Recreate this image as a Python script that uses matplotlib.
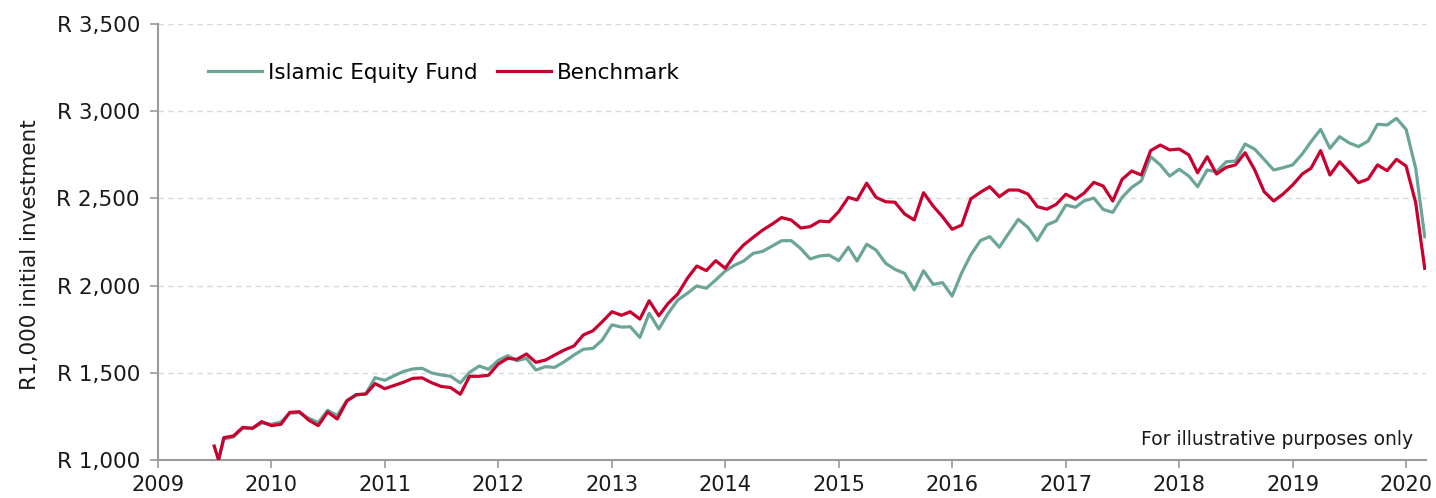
import matplotlib
matplotlib.use("Agg")
import matplotlib.pyplot as plt
from matplotlib.ticker import FuncFormatter
import pandas as pd

# ---- data ----
start_dates = ["2009-07-01", "2009-07-15"]
start_fund = [1080, 1000]
start_bench = [1080, 1000]
monthly_start = "2009-08-01"

fund = [1120, 1132, 1183, 1180, 1212, 1205, 1218, 1268, 1272, 1240,
        1215, 1285, 1255, 1342, 1372, 1380, 1472, 1457, 1484, 1507,
        1522, 1526, 1499, 1488, 1480, 1442, 1503, 1539, 1520, 1571,
        1598, 1569, 1583, 1516, 1535, 1531, 1564, 1602, 1635, 1640,
        1688, 1775, 1762, 1764, 1703, 1841, 1751, 1841, 1917, 1956,
        1998, 1985, 2032, 2084, 2118, 2141, 2185, 2196, 2227, 2257,
        2258, 2212, 2153, 2170, 2175, 2143, 2220, 2141, 2237, 2204,
        2128, 2093, 2070, 1975, 2085, 2007, 2017, 1940, 2074, 2176,
        2258, 2281, 2220, 2300, 2380, 2334, 2258, 2348, 2371, 2462,
        2449, 2486, 2502, 2437, 2420, 2506, 2563, 2601, 2739, 2692,
        2628, 2667, 2628, 2567, 2663, 2653, 2710, 2714, 2812, 2782,
        2724, 2663, 2676, 2692, 2755, 2825, 2896, 2787, 2854, 2819,
        2797, 2829, 2925, 2921, 2959, 2896, 2673, 2280]

bench = [1128, 1138, 1187, 1182, 1220, 1197, 1205, 1273, 1277, 1229,
         1197, 1275, 1235, 1338, 1375, 1378, 1438, 1409, 1428, 1445,
         1468, 1471, 1443, 1422, 1415, 1377, 1480, 1480, 1486, 1550,
         1583, 1577, 1608, 1560, 1573, 1602, 1631, 1654, 1717, 1741,
         1793, 1850, 1830, 1850, 1808, 1913, 1827, 1898, 1952, 2042,
         2112, 2086, 2143, 2099, 2179, 2233, 2277, 2318, 2353, 2390,
         2376, 2330, 2338, 2370, 2366, 2424, 2506, 2491, 2587, 2506,
         2481, 2478, 2411, 2376, 2533, 2456, 2395, 2323, 2347, 2497,
         2535, 2567, 2510, 2548, 2548, 2525, 2453, 2438, 2466, 2524,
         2495, 2531, 2592, 2571, 2485, 2609, 2657, 2634, 2774, 2806,
         2778, 2783, 2749, 2647, 2739, 2640, 2678, 2692, 2762, 2663,
         2539, 2485, 2525, 2577, 2640, 2673, 2774, 2634, 2710, 2653,
         2590, 2611, 2692, 2659, 2724, 2686, 2475, 2099]

y_ticks = [1000, 1500, 2000, 2500, 3000, 3500]
x_years = list(range(2009, 2021))

fund_label = "Islamic Equity Fund"
bench_label = "Benchmark"
y_label = "R1,000 initial investment"
note = "For illustrative purposes only"

# ---- build series ----
monthly = pd.date_range(monthly_start, periods=len(fund), freq="MS")
dates = pd.to_datetime(start_dates).append(monthly)
fund_all = start_fund + fund
bench_all = start_bench + bench

GREEN = "#6BA597"
RED = "#C8002F"
GREY = "#9A9A9A"
TXT = "#1a1a1a"

plt.rcParams['font.family'] = ['DejaVu Sans']

fig = plt.figure(figsize=(14.36, 4.98), dpi=100)
ax = fig.add_axes([0.110, 0.0763, 0.883, 0.8755])

ax.plot(dates[1:], fund_all[1:], color=GREEN, lw=2.3, label=fund_label, zorder=3,
        solid_joinstyle="round")
ax.plot(dates, bench_all, color=RED, lw=2.3, label=bench_label, zorder=4,
        solid_joinstyle="round")

ax.set_ylim(y_ticks[0], y_ticks[-1])
ax.set_yticks(y_ticks)
ax.yaxis.set_major_formatter(FuncFormatter(lambda v, p: "R {:,.0f}".format(v)))
ax.set_xlim(pd.Timestamp("2009-01-01"), pd.Timestamp("2020-03-05"))
ax.set_xticks([pd.Timestamp(f"{y}-01-01") for y in x_years])
ax.set_xticklabels([str(y) for y in x_years])

ax.grid(axis="y", color="#D9D9D9", linestyle=(0, (4, 3)), linewidth=1.0, zorder=0)
ax.set_axisbelow(True)
for s in ["top", "right"]:
    ax.spines[s].set_visible(False)
for s in ["left", "bottom"]:
    ax.spines[s].set_color(GREY)
    ax.spines[s].set_linewidth(1.5)
ax.tick_params(axis="y", direction="out", length=6, width=1.2, color=GREY,
               labelsize=15.5, pad=7, labelcolor=TXT)
ax.tick_params(axis="x", direction="out", length=6, width=1.2, color=GREY,
               labelsize=15, pad=5, labelcolor=TXT)
ax.set_ylabel(y_label, fontsize=15.5, color=TXT, labelpad=16)
ax.yaxis.set_label_coords(-0.093, 0.47)

leg = ax.legend(loc="upper left", bbox_to_anchor=(0.024, 0.955), ncol=2, frameon=False,
                fontsize=15.5, handlelength=2.5, handletextpad=0.3, columnspacing=0.9)

ax.text(0.99, 0.025, note, transform=ax.transAxes, ha="right", va="bottom",
        fontsize=13.5, color=TXT)

fig.savefig("out.png", dpi=100)
